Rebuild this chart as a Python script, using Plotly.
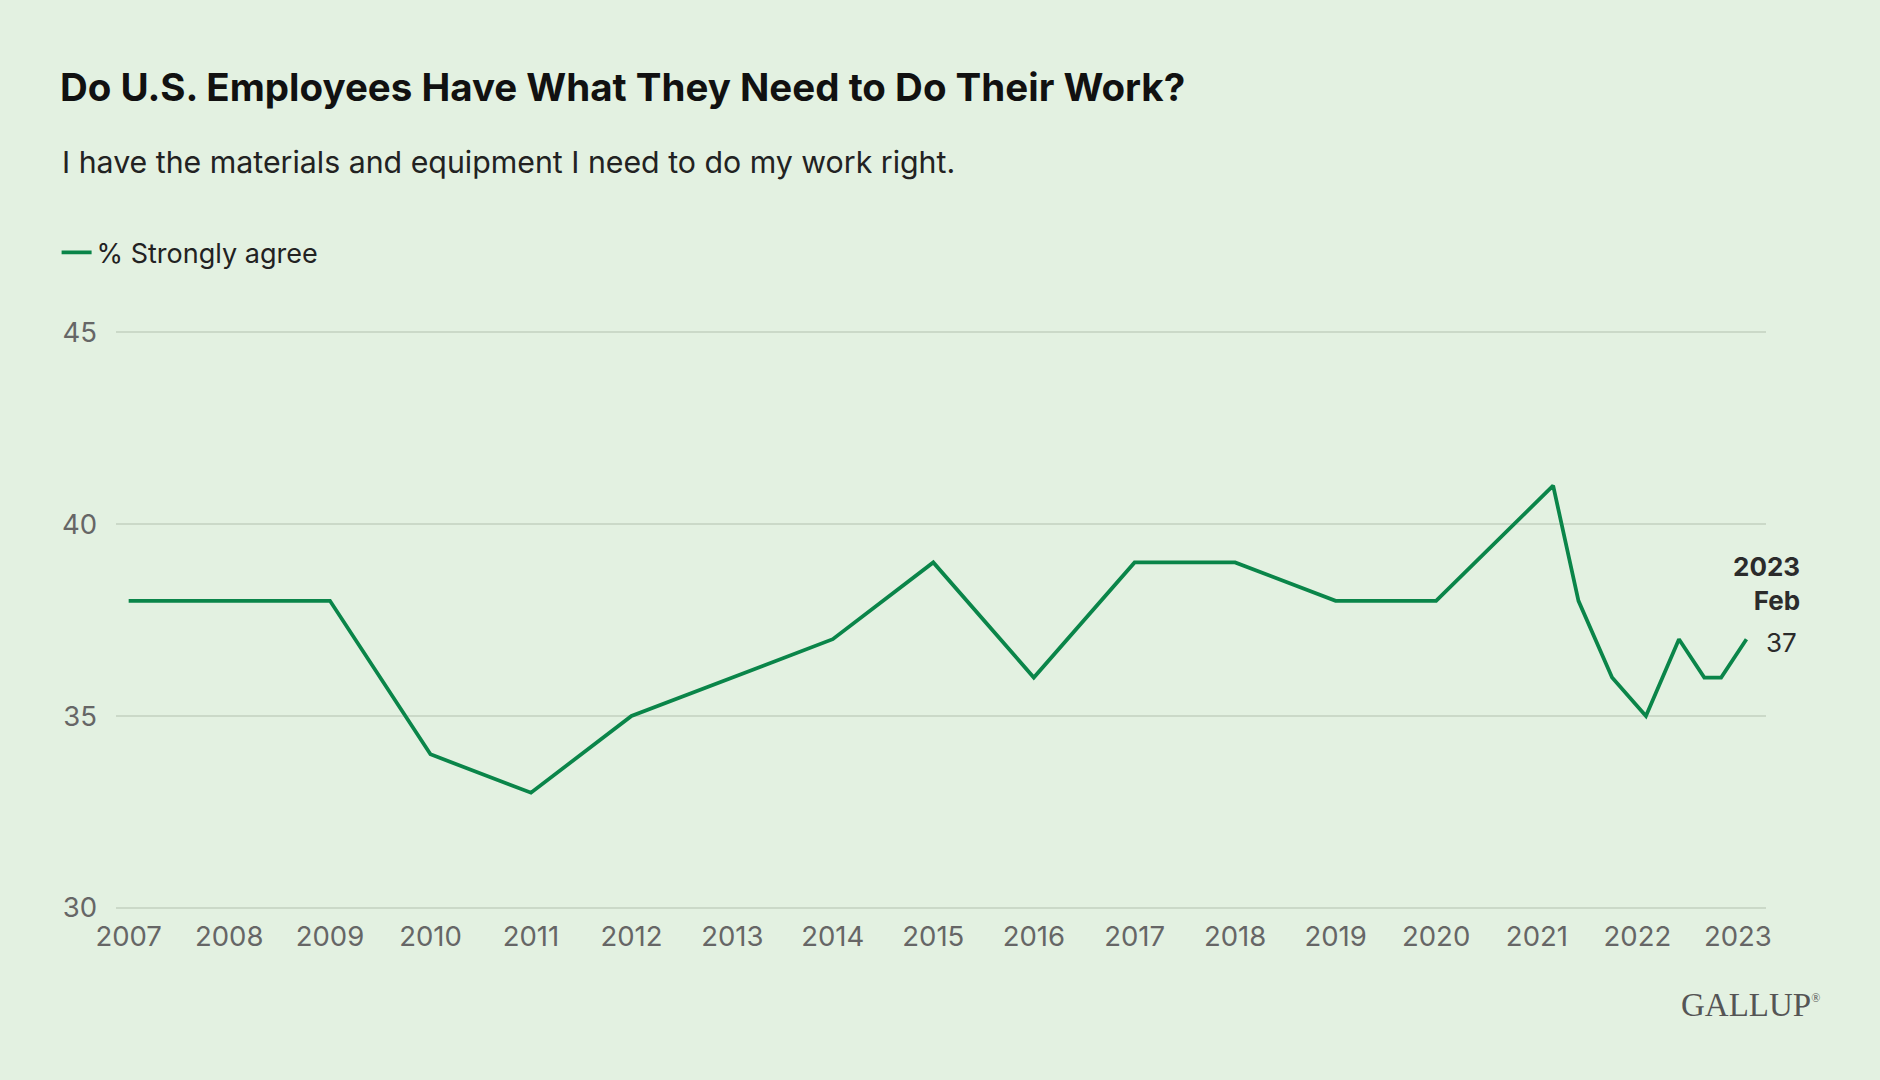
import plotly.graph_objects as go

# ---- data ----
dates = [
    "2007-01-01", "2008-01-01", "2009-01-01", "2010-01-01", "2011-01-01",
    "2012-01-01", "2013-01-01", "2014-01-01", "2015-01-01", "2016-01-01",
    "2017-01-01", "2018-01-01", "2019-01-01", "2020-01-01", "2021-03-01",
    "2021-06-01", "2021-10-01", "2022-02-01", "2022-06-01", "2022-09-01",
    "2022-11-01", "2023-02-01",
]
strongly_agree = [38, 38, 38, 34, 33, 35, 36, 37, 39, 36, 39, 39, 38, 38, 41,
                  38, 36, 35, 37, 36, 36, 37]
series_name = "% Strongly agree"
year_ticks = [f"{y}-01-01" for y in range(2007, 2024)]
year_labels = [str(y) for y in range(2007, 2024)]
y_ticks = [30, 35, 40, 45]

BG = "#e3f1e1"
GREEN = "#0a8549"
GRID = "#cbd9c8"
FONT = "Inter, Roboto, 'Liberation Sans', sans-serif"

fig = go.Figure()
fig.add_trace(go.Scatter(
    x=dates, y=strongly_agree, mode="lines", name=series_name,
    line=dict(color=GREEN, width=3.75), hoverinfo="x+y",
))

fig.update_layout(
    width=1880, height=1080,
    paper_bgcolor=BG, plot_bgcolor=BG,
    margin=dict(l=116, r=114, t=331, b=171),
    font=dict(family=FONT, color="#666666", size=27),
    title=dict(
        text="<b>Do U.S. Employees Have What They Need to Do Their Work?</b>",
        x=60 / 1880, xanchor="left", xref="container",
        y=1 - 88 / 1080, yanchor="middle", yref="container",
        font=dict(family=FONT, size=38.5, color="#111111"),
    ),
    showlegend=True,
    legend=dict(
        x=-0.036, xanchor="left", y=(908 - 254) / 576, yanchor="middle",
        font=dict(family=FONT, size=27, color="#222222"),
        bgcolor="rgba(0,0,0,0)", itemwidth=30,
    ),
    xaxis=dict(
        type="date",
        range=["2006-11-16", "2023-04-13"],
        tickvals=year_ticks, ticktext=year_labels,
        showgrid=False, zeroline=False, showline=False,
        ticks="", ticklabelstandoff=8,
        tickfont=dict(size=27.5, color="#666666"),
    ),
    yaxis=dict(
        range=[29.97, 45.03], tickvals=y_ticks,
        showgrid=True, gridcolor=GRID, gridwidth=1.5,
        zeroline=False, showline=False, ticks="",
        ticklabelstandoff=18,
        tickfont=dict(size=27.5, color="#666666"),
    ),
)

# subtitle
fig.add_annotation(
    text="I have the materials and equipment I need to do my work right.",
    xref="paper", yref="paper", x=(60 - 116) / 1650, y=(908 - 164) / 576,
    xanchor="left", yanchor="middle", showarrow=False,
    font=dict(family=FONT, size=30.3, color="#222222"),
)

# end label
last_x, last_y = dates[-1], strongly_agree[-1]
fig.add_annotation(
    text="<b>2023<br>Feb</b>", x=last_x, y=last_y, xref="x", yref="y",
    xanchor="right", yanchor="middle", xshift=56, yshift=56, showarrow=False,
    align="right", font=dict(family=FONT, size=26, color="#2b2b2b"),
)
fig.add_annotation(
    text=str(last_y), x=last_x, y=last_y, xref="x", yref="y",
    xanchor="left", yanchor="middle", xshift=18, yshift=-3, showarrow=False,
    font=dict(family=FONT, size=26, color="#2b2b2b"),
)

# logo text
fig.add_annotation(
    text="GALLUP<sup><span style='font-size:12px'>®</span></sup>", xref="paper", yref="paper",
    x=(1822 - 116) / 1650, y=(908 - 1004) / 576,
    xanchor="right", yanchor="middle", showarrow=False,
    font=dict(family="'Liberation Serif', 'DejaVu Serif', serif", size=33, color="#555555"),
)

fig.write_html("out.html")
